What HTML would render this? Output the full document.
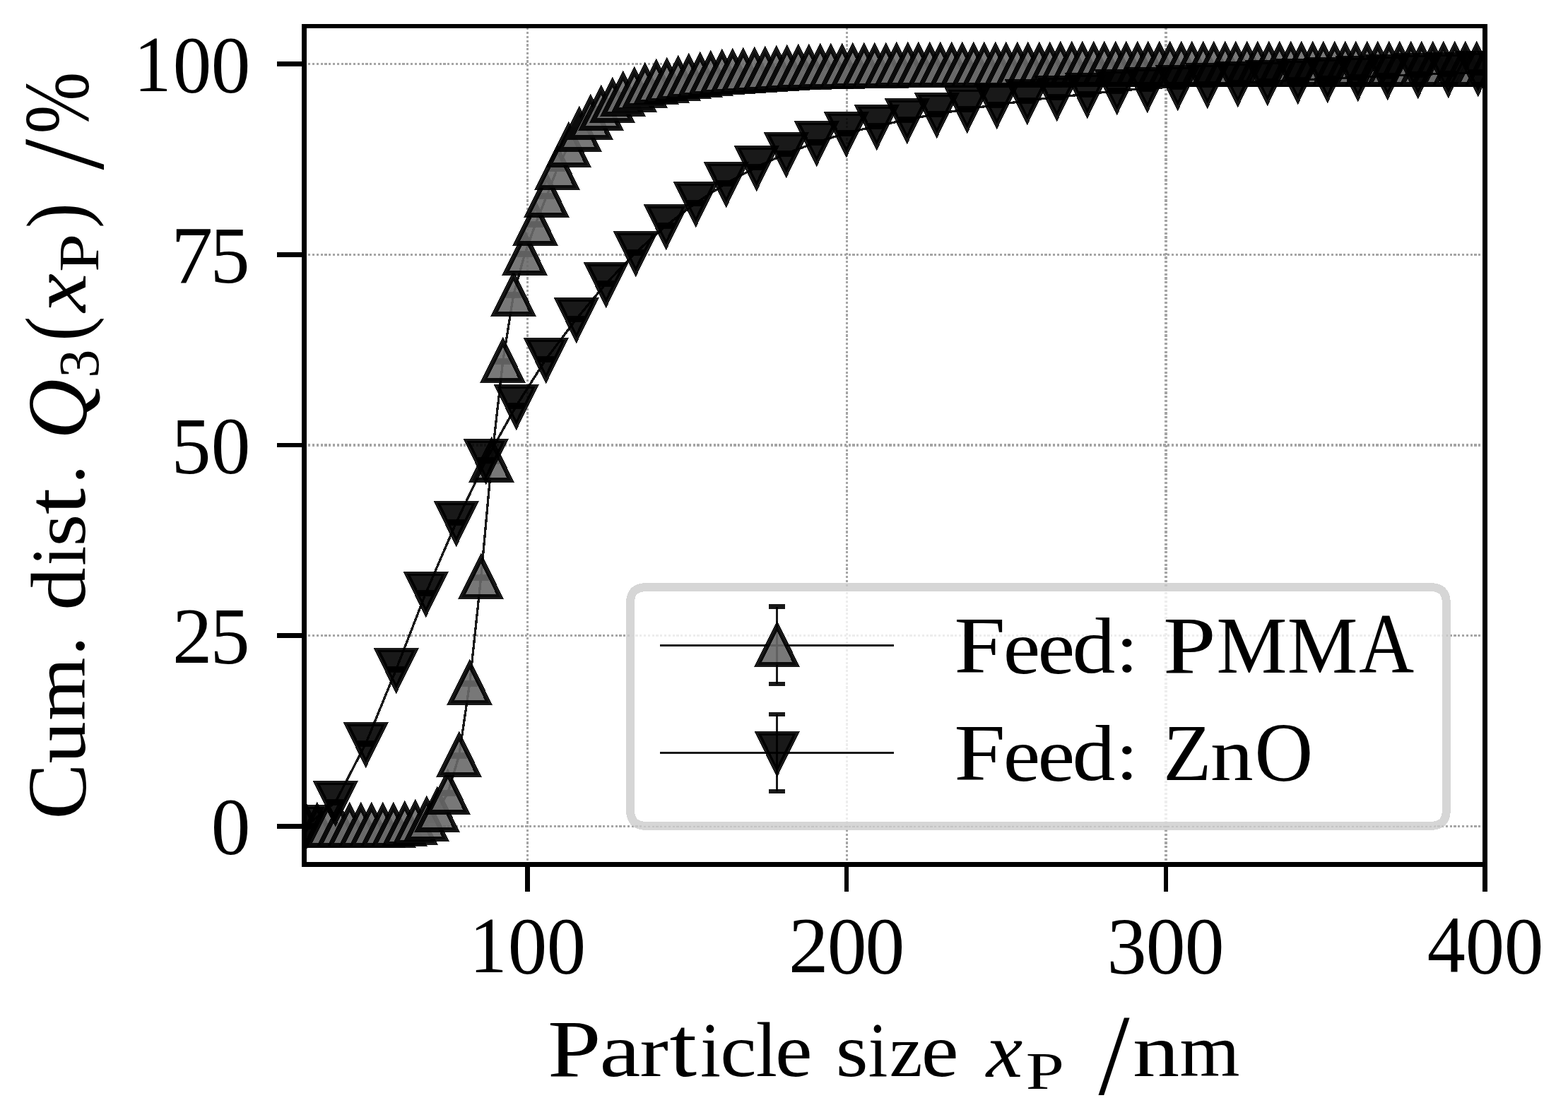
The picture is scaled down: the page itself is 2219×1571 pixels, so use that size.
<!DOCTYPE html>
<html lang="en"><head><meta charset="utf-8"><title>Cumulative distribution of particle size</title>
<style>html,body{margin:0;padding:0;background:#fff}body{width:2219px;height:1571px}svg{display:block}text{font-family:"Liberation Serif",serif;fill:#000}</style>
</head><body>
<svg width="2219" height="1571" viewBox="0 0 2219 1571">
<rect width="2219" height="1571" fill="#fff"/>
<defs>
<clipPath id="ax"><rect x="430.5" y="37" width="1671" height="1186.5"/></clipPath>
<path id="up" d="M0 -27.4 L-27.09 27.4 L27.09 27.4 Z"/>
<path id="dn" d="M0 27.4 L-27.09 -27.4 L27.09 -27.4 Z"/>
<rect id="cap" x="-11.5" y="-3.35" width="23" height="6.7"/>
</defs>
<g stroke="#a5a5a5" stroke-dasharray="3.18 2.61" fill="none" shape-rendering="crispEdges">
<line x1="746.5" y1="1223.5" x2="746.5" y2="37" stroke-width="2.8"/>
<line x1="1198.5" y1="1223.5" x2="1198.5" y2="37" stroke-width="2.8"/>
<line x1="1650" y1="1223.5" x2="1650" y2="37" stroke-width="3.8"/>
<line x1="2101.5" y1="1223.5" x2="2101.5" y2="37" stroke-width="2.8"/>
<line x1="430.5" y1="1169.5" x2="2101.5" y2="1169.5" stroke-width="2.8"/>
<line x1="430.5" y1="899.5" x2="2101.5" y2="899.5" stroke-width="2.8"/>
<line x1="430.5" y1="630" x2="2101.5" y2="630" stroke-width="3.8"/>
<line x1="430.5" y1="360.5" x2="2101.5" y2="360.5" stroke-width="2.8"/>
<line x1="430.5" y1="90.5" x2="2101.5" y2="90.5" stroke-width="2.8"/>
</g>
<g clip-path="url(#ax)" shape-rendering="crispEdges">
<g fill="#000" fill-opacity="0.9">
<use href="#cap" x="432.7" y="1168.2"/><use href="#cap" x="432.7" y="1170.4"/><use href="#cap" x="448.7" y="1168.2"/><use href="#cap" x="448.7" y="1170.4"/><use href="#cap" x="463.7" y="1168.2"/><use href="#cap" x="463.7" y="1170.4"/><use href="#cap" x="479.7" y="1168.2"/><use href="#cap" x="479.7" y="1170.4"/><use href="#cap" x="494.7" y="1168.2"/><use href="#cap" x="494.7" y="1170.4"/><use href="#cap" x="510.7" y="1168.2"/><use href="#cap" x="510.7" y="1170.4"/><use href="#cap" x="525.7" y="1168.2"/><use href="#cap" x="525.7" y="1170.4"/><use href="#cap" x="541.7" y="1168.2"/><use href="#cap" x="541.7" y="1170.4"/><use href="#cap" x="556.7" y="1168.2"/><use href="#cap" x="556.7" y="1170.4"/><use href="#cap" x="572.7" y="1166.2"/><use href="#cap" x="572.7" y="1168.4"/><use href="#cap" x="587.7" y="1164.2"/><use href="#cap" x="587.7" y="1166.4"/><use href="#cap" x="603.7" y="1159.2"/><use href="#cap" x="603.7" y="1161.4"/><use href="#cap" x="618.7" y="1146.2"/><use href="#cap" x="618.7" y="1148.4"/><use href="#cap" x="633.7" y="1121.2"/><use href="#cap" x="633.7" y="1123.4"/><use href="#cap" x="649.7" y="1068.2"/><use href="#cap" x="649.7" y="1070.4"/><use href="#cap" x="664.7" y="966.2"/><use href="#cap" x="664.7" y="968.4"/><use href="#cap" x="680.7" y="816.2"/><use href="#cap" x="680.7" y="818.4"/><use href="#cap" x="695.7" y="651.2"/><use href="#cap" x="695.7" y="653.4"/><use href="#cap" x="711.7" y="510.2"/><use href="#cap" x="711.7" y="512.4"/><use href="#cap" x="726.7" y="416.2"/><use href="#cap" x="726.7" y="418.4"/><use href="#cap" x="742.7" y="358.2"/><use href="#cap" x="742.7" y="360.4"/><use href="#cap" x="757.7" y="316.2"/><use href="#cap" x="757.7" y="318.4"/><use href="#cap" x="773.7" y="276.2"/><use href="#cap" x="773.7" y="278.4"/><use href="#cap" x="788.7" y="237.2"/><use href="#cap" x="788.7" y="239.4"/><use href="#cap" x="804.7" y="205.2"/><use href="#cap" x="804.7" y="207.4"/><use href="#cap" x="819.7" y="183.2"/><use href="#cap" x="819.7" y="185.4"/><use href="#cap" x="835.7" y="166.2"/><use href="#cap" x="835.7" y="168.4"/><use href="#cap" x="850.7" y="153.2"/><use href="#cap" x="850.7" y="155.4"/><use href="#cap" x="866.7" y="142.2"/><use href="#cap" x="866.7" y="144.4"/><use href="#cap" x="881.7" y="133.2"/><use href="#cap" x="881.7" y="135.4"/><use href="#cap" x="897.7" y="127.2"/><use href="#cap" x="897.7" y="129.4"/><use href="#cap" x="912.7" y="121.2"/><use href="#cap" x="912.7" y="123.4"/><use href="#cap" x="928.7" y="116.2"/><use href="#cap" x="928.7" y="118.4"/><use href="#cap" x="943.7" y="114.2"/><use href="#cap" x="943.7" y="116.4"/><use href="#cap" x="959.7" y="111.2"/><use href="#cap" x="959.7" y="113.4"/><use href="#cap" x="974.7" y="108.2"/><use href="#cap" x="974.7" y="110.4"/><use href="#cap" x="990.7" y="106.2"/><use href="#cap" x="990.7" y="108.4"/><use href="#cap" x="1005.7" y="104.2"/><use href="#cap" x="1005.7" y="106.4"/><use href="#cap" x="1021.7" y="102.2"/><use href="#cap" x="1021.7" y="104.4"/><use href="#cap" x="1036.7" y="101.2"/><use href="#cap" x="1036.7" y="103.4"/><use href="#cap" x="1051.7" y="100.2"/><use href="#cap" x="1051.7" y="102.4"/><use href="#cap" x="1067.7" y="99.2"/><use href="#cap" x="1067.7" y="101.4"/><use href="#cap" x="1082.7" y="98.2"/><use href="#cap" x="1082.7" y="100.4"/><use href="#cap" x="1098.7" y="97.2"/><use href="#cap" x="1098.7" y="99.4"/><use href="#cap" x="1113.7" y="96.2"/><use href="#cap" x="1113.7" y="98.4"/><use href="#cap" x="1129.7" y="95.2"/><use href="#cap" x="1129.7" y="97.4"/><use href="#cap" x="1144.7" y="95.2"/><use href="#cap" x="1144.7" y="97.4"/><use href="#cap" x="1160.7" y="94.2"/><use href="#cap" x="1160.7" y="96.4"/><use href="#cap" x="1175.7" y="94.2"/><use href="#cap" x="1175.7" y="96.4"/><use href="#cap" x="1191.7" y="94.2"/><use href="#cap" x="1191.7" y="96.4"/><use href="#cap" x="1206.7" y="93.2"/><use href="#cap" x="1206.7" y="95.4"/><use href="#cap" x="1222.7" y="93.2"/><use href="#cap" x="1222.7" y="95.4"/><use href="#cap" x="1237.7" y="93.2"/><use href="#cap" x="1237.7" y="95.4"/><use href="#cap" x="1253.7" y="93.2"/><use href="#cap" x="1253.7" y="95.4"/><use href="#cap" x="1268.7" y="92.2"/><use href="#cap" x="1268.7" y="94.4"/><use href="#cap" x="1284.7" y="92.2"/><use href="#cap" x="1284.7" y="94.4"/><use href="#cap" x="1299.7" y="92.2"/><use href="#cap" x="1299.7" y="94.4"/><use href="#cap" x="1315.7" y="92.2"/><use href="#cap" x="1315.7" y="94.4"/><use href="#cap" x="1330.7" y="92.2"/><use href="#cap" x="1330.7" y="94.4"/><use href="#cap" x="1346.7" y="92.2"/><use href="#cap" x="1346.7" y="94.4"/><use href="#cap" x="1361.7" y="92.2"/><use href="#cap" x="1361.7" y="94.4"/><use href="#cap" x="1377.7" y="92.2"/><use href="#cap" x="1377.7" y="94.4"/><use href="#cap" x="1392.7" y="92.2"/><use href="#cap" x="1392.7" y="94.4"/><use href="#cap" x="1408.7" y="92.2"/><use href="#cap" x="1408.7" y="94.4"/><use href="#cap" x="1423.7" y="92.2"/><use href="#cap" x="1423.7" y="94.4"/><use href="#cap" x="1439.7" y="92.2"/><use href="#cap" x="1439.7" y="94.4"/><use href="#cap" x="1454.7" y="92.2"/><use href="#cap" x="1454.7" y="94.4"/><use href="#cap" x="1470.7" y="92.2"/><use href="#cap" x="1470.7" y="94.4"/><use href="#cap" x="1485.7" y="92.2"/><use href="#cap" x="1485.7" y="94.4"/><use href="#cap" x="1500.7" y="91.2"/><use href="#cap" x="1500.7" y="93.4"/><use href="#cap" x="1516.7" y="91.2"/><use href="#cap" x="1516.7" y="93.4"/><use href="#cap" x="1531.7" y="91.2"/><use href="#cap" x="1531.7" y="93.4"/><use href="#cap" x="1547.7" y="91.2"/><use href="#cap" x="1547.7" y="93.4"/><use href="#cap" x="1562.7" y="91.2"/><use href="#cap" x="1562.7" y="93.4"/><use href="#cap" x="1578.7" y="91.2"/><use href="#cap" x="1578.7" y="93.4"/><use href="#cap" x="1593.7" y="91.2"/><use href="#cap" x="1593.7" y="93.4"/><use href="#cap" x="1609.7" y="91.2"/><use href="#cap" x="1609.7" y="93.4"/><use href="#cap" x="1624.7" y="91.2"/><use href="#cap" x="1624.7" y="93.4"/><use href="#cap" x="1640.7" y="91.2"/><use href="#cap" x="1640.7" y="93.4"/><use href="#cap" x="1655.7" y="91.2"/><use href="#cap" x="1655.7" y="93.4"/><use href="#cap" x="1671.7" y="91.2"/><use href="#cap" x="1671.7" y="93.4"/><use href="#cap" x="1686.7" y="91.2"/><use href="#cap" x="1686.7" y="93.4"/><use href="#cap" x="1702.7" y="91.2"/><use href="#cap" x="1702.7" y="93.4"/><use href="#cap" x="1717.7" y="91.2"/><use href="#cap" x="1717.7" y="93.4"/><use href="#cap" x="1733.7" y="91.2"/><use href="#cap" x="1733.7" y="93.4"/><use href="#cap" x="1748.7" y="91.2"/><use href="#cap" x="1748.7" y="93.4"/><use href="#cap" x="1764.7" y="91.2"/><use href="#cap" x="1764.7" y="93.4"/><use href="#cap" x="1779.7" y="91.2"/><use href="#cap" x="1779.7" y="93.4"/><use href="#cap" x="1795.7" y="91.2"/><use href="#cap" x="1795.7" y="93.4"/><use href="#cap" x="1810.7" y="91.2"/><use href="#cap" x="1810.7" y="93.4"/><use href="#cap" x="1826.7" y="91.2"/><use href="#cap" x="1826.7" y="93.4"/><use href="#cap" x="1841.7" y="91.2"/><use href="#cap" x="1841.7" y="93.4"/><use href="#cap" x="1857.7" y="91.2"/><use href="#cap" x="1857.7" y="93.4"/><use href="#cap" x="1872.7" y="91.2"/><use href="#cap" x="1872.7" y="93.4"/><use href="#cap" x="1888.7" y="91.2"/><use href="#cap" x="1888.7" y="93.4"/><use href="#cap" x="1903.7" y="91.2"/><use href="#cap" x="1903.7" y="93.4"/><use href="#cap" x="1918.7" y="91.2"/><use href="#cap" x="1918.7" y="93.4"/><use href="#cap" x="1934.7" y="91.2"/><use href="#cap" x="1934.7" y="93.4"/><use href="#cap" x="1949.7" y="91.2"/><use href="#cap" x="1949.7" y="93.4"/><use href="#cap" x="1965.7" y="91.2"/><use href="#cap" x="1965.7" y="93.4"/><use href="#cap" x="1980.7" y="91.2"/><use href="#cap" x="1980.7" y="93.4"/><use href="#cap" x="1996.7" y="91.2"/><use href="#cap" x="1996.7" y="93.4"/><use href="#cap" x="2011.7" y="91.2"/><use href="#cap" x="2011.7" y="93.4"/><use href="#cap" x="2027.7" y="91.2"/><use href="#cap" x="2027.7" y="93.4"/><use href="#cap" x="2042.7" y="91.2"/><use href="#cap" x="2042.7" y="93.4"/><use href="#cap" x="2058.7" y="91.2"/><use href="#cap" x="2058.7" y="93.4"/><use href="#cap" x="2073.7" y="91.2"/><use href="#cap" x="2073.7" y="93.4"/><use href="#cap" x="2089.7" y="91.2"/><use href="#cap" x="2089.7" y="93.4"/><use href="#cap" x="2104.7" y="91.2"/><use href="#cap" x="2104.7" y="93.4"/>
</g>
<polyline fill="none" stroke="#000" stroke-opacity="0.9" stroke-width="3.33" stroke-linejoin="round" points="432.7,1169.3 448.7,1169.3 463.7,1169.3 479.7,1169.3 494.7,1169.3 510.7,1169.3 525.7,1169.3 541.7,1169.3 556.7,1169.3 572.7,1167.3 587.7,1165.3 603.7,1160.3 618.7,1147.3 633.7,1122.3 649.7,1069.3 664.7,967.3 680.7,817.3 695.7,652.3 711.7,511.3 726.7,417.3 742.7,359.3 757.7,317.3 773.7,277.3 788.7,238.3 804.7,206.3 819.7,184.3 835.7,167.3 850.7,154.3 866.7,143.3 881.7,134.3 897.7,128.3 912.7,122.3 928.7,117.3 943.7,115.3 959.7,112.3 974.7,109.3 990.7,107.3 1005.7,105.3 1021.7,103.3 1036.7,102.3 1051.7,101.3 1067.7,100.3 1082.7,99.3 1098.7,98.3 1113.7,97.3 1129.7,96.3 1144.7,96.3 1160.7,95.3 1175.7,95.3 1191.7,95.3 1206.7,94.3 1222.7,94.3 1237.7,94.3 1253.7,94.3 1268.7,93.3 1284.7,93.3 1299.7,93.3 1315.7,93.3 1330.7,93.3 1346.7,93.3 1361.7,93.3 1377.7,93.3 1392.7,93.3 1408.7,93.3 1423.7,93.3 1439.7,93.3 1454.7,93.3 1470.7,93.3 1485.7,93.3 1500.7,92.3 1516.7,92.3 1531.7,92.3 1547.7,92.3 1562.7,92.3 1578.7,92.3 1593.7,92.3 1609.7,92.3 1624.7,92.3 1640.7,92.3 1655.7,92.3 1671.7,92.3 1686.7,92.3 1702.7,92.3 1717.7,92.3 1733.7,92.3 1748.7,92.3 1764.7,92.3 1779.7,92.3 1795.7,92.3 1810.7,92.3 1826.7,92.3 1841.7,92.3 1857.7,92.3 1872.7,92.3 1888.7,92.3 1903.7,92.3 1918.7,92.3 1934.7,92.3 1949.7,92.3 1965.7,92.3 1980.7,92.3 1996.7,92.3 2011.7,92.3 2027.7,92.3 2042.7,92.3 2058.7,92.3 2073.7,92.3 2089.7,92.3 2104.7,92.3"/>
<g fill="#696969" fill-opacity="0.9" stroke="#000" stroke-opacity="0.9" stroke-width="6.67" stroke-linejoin="miter" stroke-miterlimit="10">
<use href="#up" x="432.7" y="1169.3"/><use href="#up" x="448.7" y="1169.3"/><use href="#up" x="463.7" y="1169.3"/><use href="#up" x="479.7" y="1169.3"/><use href="#up" x="494.7" y="1169.3"/><use href="#up" x="510.7" y="1169.3"/><use href="#up" x="525.7" y="1169.3"/><use href="#up" x="541.7" y="1169.3"/><use href="#up" x="556.7" y="1169.3"/><use href="#up" x="572.7" y="1167.3"/><use href="#up" x="587.7" y="1165.3"/><use href="#up" x="603.7" y="1160.3"/><use href="#up" x="618.7" y="1147.3"/><use href="#up" x="633.7" y="1122.3"/><use href="#up" x="649.7" y="1069.3"/><use href="#up" x="664.7" y="967.3"/><use href="#up" x="680.7" y="817.3"/><use href="#up" x="695.7" y="652.3"/><use href="#up" x="711.7" y="511.3"/><use href="#up" x="726.7" y="417.3"/><use href="#up" x="742.7" y="359.3"/><use href="#up" x="757.7" y="317.3"/><use href="#up" x="773.7" y="277.3"/><use href="#up" x="788.7" y="238.3"/><use href="#up" x="804.7" y="206.3"/><use href="#up" x="819.7" y="184.3"/><use href="#up" x="835.7" y="167.3"/><use href="#up" x="850.7" y="154.3"/><use href="#up" x="866.7" y="143.3"/><use href="#up" x="881.7" y="134.3"/><use href="#up" x="897.7" y="128.3"/><use href="#up" x="912.7" y="122.3"/><use href="#up" x="928.7" y="117.3"/><use href="#up" x="943.7" y="115.3"/><use href="#up" x="959.7" y="112.3"/><use href="#up" x="974.7" y="109.3"/><use href="#up" x="990.7" y="107.3"/><use href="#up" x="1005.7" y="105.3"/><use href="#up" x="1021.7" y="103.3"/><use href="#up" x="1036.7" y="102.3"/><use href="#up" x="1051.7" y="101.3"/><use href="#up" x="1067.7" y="100.3"/><use href="#up" x="1082.7" y="99.3"/><use href="#up" x="1098.7" y="98.3"/><use href="#up" x="1113.7" y="97.3"/><use href="#up" x="1129.7" y="96.3"/><use href="#up" x="1144.7" y="96.3"/><use href="#up" x="1160.7" y="95.3"/><use href="#up" x="1175.7" y="95.3"/><use href="#up" x="1191.7" y="95.3"/><use href="#up" x="1206.7" y="94.3"/><use href="#up" x="1222.7" y="94.3"/><use href="#up" x="1237.7" y="94.3"/><use href="#up" x="1253.7" y="94.3"/><use href="#up" x="1268.7" y="93.3"/><use href="#up" x="1284.7" y="93.3"/><use href="#up" x="1299.7" y="93.3"/><use href="#up" x="1315.7" y="93.3"/><use href="#up" x="1330.7" y="93.3"/><use href="#up" x="1346.7" y="93.3"/><use href="#up" x="1361.7" y="93.3"/><use href="#up" x="1377.7" y="93.3"/><use href="#up" x="1392.7" y="93.3"/><use href="#up" x="1408.7" y="93.3"/><use href="#up" x="1423.7" y="93.3"/><use href="#up" x="1439.7" y="93.3"/><use href="#up" x="1454.7" y="93.3"/><use href="#up" x="1470.7" y="93.3"/><use href="#up" x="1485.7" y="93.3"/><use href="#up" x="1500.7" y="92.3"/><use href="#up" x="1516.7" y="92.3"/><use href="#up" x="1531.7" y="92.3"/><use href="#up" x="1547.7" y="92.3"/><use href="#up" x="1562.7" y="92.3"/><use href="#up" x="1578.7" y="92.3"/><use href="#up" x="1593.7" y="92.3"/><use href="#up" x="1609.7" y="92.3"/><use href="#up" x="1624.7" y="92.3"/><use href="#up" x="1640.7" y="92.3"/><use href="#up" x="1655.7" y="92.3"/><use href="#up" x="1671.7" y="92.3"/><use href="#up" x="1686.7" y="92.3"/><use href="#up" x="1702.7" y="92.3"/><use href="#up" x="1717.7" y="92.3"/><use href="#up" x="1733.7" y="92.3"/><use href="#up" x="1748.7" y="92.3"/><use href="#up" x="1764.7" y="92.3"/><use href="#up" x="1779.7" y="92.3"/><use href="#up" x="1795.7" y="92.3"/><use href="#up" x="1810.7" y="92.3"/><use href="#up" x="1826.7" y="92.3"/><use href="#up" x="1841.7" y="92.3"/><use href="#up" x="1857.7" y="92.3"/><use href="#up" x="1872.7" y="92.3"/><use href="#up" x="1888.7" y="92.3"/><use href="#up" x="1903.7" y="92.3"/><use href="#up" x="1918.7" y="92.3"/><use href="#up" x="1934.7" y="92.3"/><use href="#up" x="1949.7" y="92.3"/><use href="#up" x="1965.7" y="92.3"/><use href="#up" x="1980.7" y="92.3"/><use href="#up" x="1996.7" y="92.3"/><use href="#up" x="2011.7" y="92.3"/><use href="#up" x="2027.7" y="92.3"/><use href="#up" x="2042.7" y="92.3"/><use href="#up" x="2058.7" y="92.3"/><use href="#up" x="2073.7" y="92.3"/><use href="#up" x="2089.7" y="92.3"/><use href="#up" x="2104.7" y="92.3"/>
</g></g>
<g clip-path="url(#ax)" shape-rendering="crispEdges">
<g fill="#000" fill-opacity="0.9">
<use href="#cap" x="432.7" y="1168.2"/><use href="#cap" x="432.7" y="1170.4"/><use href="#cap" x="474.7" y="1134.2"/><use href="#cap" x="474.7" y="1136.4"/><use href="#cap" x="517.7" y="1051.2"/><use href="#cap" x="517.7" y="1053.4"/><use href="#cap" x="560.7" y="946.2"/><use href="#cap" x="560.7" y="948.4"/><use href="#cap" x="602.7" y="838.2"/><use href="#cap" x="602.7" y="840.4"/><use href="#cap" x="645.7" y="738.2"/><use href="#cap" x="645.7" y="740.4"/><use href="#cap" x="687.7" y="650.2"/><use href="#cap" x="687.7" y="652.4"/><use href="#cap" x="730.7" y="573.2"/><use href="#cap" x="730.7" y="575.4"/><use href="#cap" x="772.7" y="507.2"/><use href="#cap" x="772.7" y="509.4"/><use href="#cap" x="815.7" y="450.2"/><use href="#cap" x="815.7" y="452.4"/><use href="#cap" x="857.7" y="400.2"/><use href="#cap" x="857.7" y="402.4"/><use href="#cap" x="899.7" y="356.2"/><use href="#cap" x="899.7" y="358.4"/><use href="#cap" x="942.7" y="318.2"/><use href="#cap" x="942.7" y="320.4"/><use href="#cap" x="984.7" y="286.2"/><use href="#cap" x="984.7" y="288.4"/><use href="#cap" x="1027.7" y="258.2"/><use href="#cap" x="1027.7" y="260.4"/><use href="#cap" x="1070.7" y="235.2"/><use href="#cap" x="1070.7" y="237.4"/><use href="#cap" x="1112.7" y="216.2"/><use href="#cap" x="1112.7" y="218.4"/><use href="#cap" x="1155.7" y="200.2"/><use href="#cap" x="1155.7" y="202.4"/><use href="#cap" x="1197.7" y="187.2"/><use href="#cap" x="1197.7" y="189.4"/><use href="#cap" x="1240.7" y="177.2"/><use href="#cap" x="1240.7" y="179.4"/><use href="#cap" x="1283.7" y="168.2"/><use href="#cap" x="1283.7" y="170.4"/><use href="#cap" x="1325.7" y="160.2"/><use href="#cap" x="1325.7" y="162.4"/><use href="#cap" x="1368.7" y="153.2"/><use href="#cap" x="1368.7" y="155.4"/><use href="#cap" x="1410.7" y="147.2"/><use href="#cap" x="1410.7" y="149.4"/><use href="#cap" x="1453.7" y="141.2"/><use href="#cap" x="1453.7" y="143.4"/><use href="#cap" x="1495.7" y="136.2"/><use href="#cap" x="1495.7" y="138.4"/><use href="#cap" x="1538.7" y="132.2"/><use href="#cap" x="1538.7" y="134.4"/><use href="#cap" x="1580.7" y="127.2"/><use href="#cap" x="1580.7" y="129.4"/><use href="#cap" x="1623.7" y="124.2"/><use href="#cap" x="1623.7" y="126.4"/><use href="#cap" x="1666.7" y="121.2"/><use href="#cap" x="1666.7" y="123.4"/><use href="#cap" x="1708.7" y="118.2"/><use href="#cap" x="1708.7" y="120.4"/><use href="#cap" x="1751.7" y="116.2"/><use href="#cap" x="1751.7" y="118.4"/><use href="#cap" x="1793.7" y="114.2"/><use href="#cap" x="1793.7" y="116.4"/><use href="#cap" x="1836.7" y="112.2"/><use href="#cap" x="1836.7" y="114.4"/><use href="#cap" x="1878.7" y="110.2"/><use href="#cap" x="1878.7" y="112.4"/><use href="#cap" x="1921.7" y="108.2"/><use href="#cap" x="1921.7" y="110.4"/><use href="#cap" x="1963.7" y="106.2"/><use href="#cap" x="1963.7" y="108.4"/><use href="#cap" x="2006.7" y="104.2"/><use href="#cap" x="2006.7" y="106.4"/><use href="#cap" x="2049.7" y="103.2"/><use href="#cap" x="2049.7" y="105.4"/><use href="#cap" x="2091.7" y="101.2"/><use href="#cap" x="2091.7" y="103.4"/>
</g>
<polyline fill="none" stroke="#000" stroke-opacity="0.9" stroke-width="3.33" stroke-linejoin="round" points="432.7,1169.3 474.7,1135.3 517.7,1052.3 560.7,947.3 602.7,839.3 645.7,739.3 687.7,651.3 730.7,574.3 772.7,508.3 815.7,451.3 857.7,401.3 899.7,357.3 942.7,319.3 984.7,287.3 1027.7,259.3 1070.7,236.3 1112.7,217.3 1155.7,201.3 1197.7,188.3 1240.7,178.3 1283.7,169.3 1325.7,161.3 1368.7,154.3 1410.7,148.3 1453.7,142.3 1495.7,137.3 1538.7,133.3 1580.7,128.3 1623.7,125.3 1666.7,122.3 1708.7,119.3 1751.7,117.3 1793.7,115.3 1836.7,113.3 1878.7,111.3 1921.7,109.3 1963.7,107.3 2006.7,105.3 2049.7,104.3 2091.7,102.3"/>
<g fill="#000" fill-opacity="0.9" stroke="#000" stroke-opacity="0.9" stroke-width="6.67" stroke-linejoin="miter" stroke-miterlimit="10">
<use href="#dn" x="432.7" y="1169.3"/><use href="#dn" x="474.7" y="1135.3"/><use href="#dn" x="517.7" y="1052.3"/><use href="#dn" x="560.7" y="947.3"/><use href="#dn" x="602.7" y="839.3"/><use href="#dn" x="645.7" y="739.3"/><use href="#dn" x="687.7" y="651.3"/><use href="#dn" x="730.7" y="574.3"/><use href="#dn" x="772.7" y="508.3"/><use href="#dn" x="815.7" y="451.3"/><use href="#dn" x="857.7" y="401.3"/><use href="#dn" x="899.7" y="357.3"/><use href="#dn" x="942.7" y="319.3"/><use href="#dn" x="984.7" y="287.3"/><use href="#dn" x="1027.7" y="259.3"/><use href="#dn" x="1070.7" y="236.3"/><use href="#dn" x="1112.7" y="217.3"/><use href="#dn" x="1155.7" y="201.3"/><use href="#dn" x="1197.7" y="188.3"/><use href="#dn" x="1240.7" y="178.3"/><use href="#dn" x="1283.7" y="169.3"/><use href="#dn" x="1325.7" y="161.3"/><use href="#dn" x="1368.7" y="154.3"/><use href="#dn" x="1410.7" y="148.3"/><use href="#dn" x="1453.7" y="142.3"/><use href="#dn" x="1495.7" y="137.3"/><use href="#dn" x="1538.7" y="133.3"/><use href="#dn" x="1580.7" y="128.3"/><use href="#dn" x="1623.7" y="125.3"/><use href="#dn" x="1666.7" y="122.3"/><use href="#dn" x="1708.7" y="119.3"/><use href="#dn" x="1751.7" y="117.3"/><use href="#dn" x="1793.7" y="115.3"/><use href="#dn" x="1836.7" y="113.3"/><use href="#dn" x="1878.7" y="111.3"/><use href="#dn" x="1921.7" y="109.3"/><use href="#dn" x="1963.7" y="107.3"/><use href="#dn" x="2006.7" y="105.3"/><use href="#dn" x="2049.7" y="104.3"/><use href="#dn" x="2091.7" y="102.3"/>
</g></g>
<g fill="#000" shape-rendering="crispEdges">
<rect x="427" y="34" width="7" height="1193"/>
<rect x="2098" y="34" width="7" height="1193"/>
<rect x="427" y="34" width="1678" height="6"/>
<rect x="427" y="1220" width="1678" height="7"/>
<rect x="743" y="1227" width="7" height="35"/>
<rect x="1195" y="1227" width="6" height="35"/>
<rect x="1647" y="1227" width="6" height="35"/>
<rect x="2098" y="1227" width="7" height="35"/>
<rect x="392" y="1166" width="35" height="7"/>
<rect x="392" y="896" width="35" height="7"/>
<rect x="392" y="627" width="35" height="6"/>
<rect x="392" y="357" width="35" height="7"/>
<rect x="392" y="87" width="35" height="7"/>
</g>
<path shape-rendering="crispEdges" d="M914.6 831.1 H2024.3 Q2046.8 831.1 2046.8 852.6 V1147.4 Q2046.8 1168.9 2024.3 1168.9 H914.6 Q892.1 1168.9 892.1 1147.4 V852.6 Q892.1 831.1 914.6 831.1 Z" fill="#fff" fill-opacity="0.8" stroke="#ccc" stroke-opacity="0.8" stroke-width="12"/>
<g shape-rendering="crispEdges">
<g fill="#000" fill-opacity="0.9"><rect x="1088" y="855" width="23" height="7"/><rect x="1088" y="965" width="23" height="6"/></g>
<line x1="1099.7" y1="858.5" x2="1099.7" y2="968" stroke="#000" stroke-opacity="0.9" stroke-width="3.33"/>
<line x1="934.4" y1="913.3" x2="1264.8" y2="913.3" stroke="#000" stroke-opacity="0.9" stroke-width="3.33"/>
<use href="#up" x="1099.7" y="913.3" fill="#696969" fill-opacity="0.9" stroke="#000" stroke-opacity="0.9" stroke-width="6.67" stroke-linejoin="miter" stroke-miterlimit="10"/>
</g>
<g shape-rendering="crispEdges">
<g fill="#000" fill-opacity="0.9"><rect x="1088" y="1008" width="23" height="6"/><rect x="1088" y="1117" width="23" height="6"/></g>
<line x1="1099.7" y1="1011" x2="1099.7" y2="1120" stroke="#000" stroke-opacity="0.9" stroke-width="3.33"/>
<line x1="934.4" y1="1065.3" x2="1264.8" y2="1065.3" stroke="#000" stroke-opacity="0.9" stroke-width="3.33"/>
<use href="#dn" x="1099.7" y="1065.3" fill="#000" fill-opacity="0.9" stroke="#000" stroke-opacity="0.9" stroke-width="6.67" stroke-linejoin="miter" stroke-miterlimit="10"/>
</g>
<text xml:space="preserve"><tspan x="664.38" y="1376.00" font-size="112.27" textLength="52.98" lengthAdjust="spacingAndGlyphs">1</tspan><tspan x="718.78" y="1377.86" font-size="114.39" textLength="55.54" lengthAdjust="spacingAndGlyphs">0</tspan><tspan x="773.69" y="1377.86" font-size="114.39" textLength="55.42" lengthAdjust="spacingAndGlyphs">0</tspan></text>
<text xml:space="preserve"><tspan x="1115.98" y="1375.80" font-size="111.63" textLength="56.44" lengthAdjust="spacingAndGlyphs">2</tspan><tspan x="1170.66" y="1377.86" font-size="114.39" textLength="55.78" lengthAdjust="spacingAndGlyphs">0</tspan><tspan x="1224.56" y="1377.86" font-size="114.39" textLength="55.78" lengthAdjust="spacingAndGlyphs">0</tspan></text>
<text xml:space="preserve"><tspan x="1566.51" y="1377.85" font-size="114.73" textLength="56.19" lengthAdjust="spacingAndGlyphs">3</tspan><tspan x="1621.66" y="1377.86" font-size="114.39" textLength="55.78" lengthAdjust="spacingAndGlyphs">0</tspan><tspan x="1676.66" y="1377.86" font-size="114.39" textLength="55.78" lengthAdjust="spacingAndGlyphs">0</tspan></text>
<text xml:space="preserve"><tspan x="2019.74" y="1375.80" font-size="113.68" textLength="54.09" lengthAdjust="spacingAndGlyphs">4</tspan><tspan x="2073.79" y="1377.86" font-size="114.39" textLength="55.42" lengthAdjust="spacingAndGlyphs">0</tspan><tspan x="2128.67" y="1377.86" font-size="114.39" textLength="55.66" lengthAdjust="spacingAndGlyphs">0</tspan></text>
<text xml:space="preserve"><tspan x="189.60" y="129.03" font-size="112.58" textLength="52.84" lengthAdjust="spacingAndGlyphs">1</tspan><tspan x="244.86" y="130.79" font-size="114.54" textLength="54.48" lengthAdjust="spacingAndGlyphs">0</tspan><tspan x="298.77" y="130.79" font-size="114.54" textLength="55.66" lengthAdjust="spacingAndGlyphs">0</tspan></text>
<text xml:space="preserve"><tspan x="242.08" y="400.99" font-size="117.38" textLength="59.24" lengthAdjust="spacingAndGlyphs">7</tspan><tspan x="297.49" y="400.04" font-size="114.71" textLength="56.09" lengthAdjust="spacingAndGlyphs">5</tspan></text>
<text xml:space="preserve"><tspan x="242.49" y="669.70" font-size="114.71" textLength="56.09" lengthAdjust="spacingAndGlyphs">5</tspan><tspan x="298.77" y="670.10" font-size="114.54" textLength="55.66" lengthAdjust="spacingAndGlyphs">0</tspan></text>
<text xml:space="preserve"><tspan x="244.08" y="937.91" font-size="112.08" textLength="56.44" lengthAdjust="spacingAndGlyphs">2</tspan><tspan x="297.49" y="939.36" font-size="114.71" textLength="56.09" lengthAdjust="spacingAndGlyphs">5</tspan></text>
<text xml:space="preserve"><tspan x="298.77" y="1209.42" font-size="114.54" textLength="55.66" lengthAdjust="spacingAndGlyphs">0</tspan></text>
<text xml:space="preserve"><tspan x="1350.15" y="952.00" font-size="115.24" textLength="72.58" lengthAdjust="spacingAndGlyphs">F</tspan><tspan x="1419.88" y="952.52" font-size="107.50" textLength="52.42" lengthAdjust="spacingAndGlyphs">e</tspan><tspan x="1468.55" y="952.52" font-size="107.50" textLength="52.66" lengthAdjust="spacingAndGlyphs">e</tspan><tspan x="1517.62" y="952.38" font-size="111.51" textLength="60.84" lengthAdjust="spacingAndGlyphs">d</tspan><tspan x="1579.37" y="950.60" font-size="100.00" textLength="31.37" lengthAdjust="spacingAndGlyphs">:</tspan> <tspan x="1645.93" y="952.00" font-size="115.24" textLength="74.88" lengthAdjust="spacingAndGlyphs">P</tspan><tspan x="1721.56" y="952.00" font-size="115.24" textLength="99.82" lengthAdjust="spacingAndGlyphs">M</tspan><tspan x="1821.66" y="952.00" font-size="115.24" textLength="99.71" lengthAdjust="spacingAndGlyphs">M</tspan><tspan x="1922.92" y="952.00" font-size="119.70" textLength="78.17" lengthAdjust="spacingAndGlyphs">A</tspan></text>
<text xml:space="preserve"><tspan x="1350.15" y="1104.10" font-size="115.24" textLength="72.58" lengthAdjust="spacingAndGlyphs">F</tspan><tspan x="1419.88" y="1104.62" font-size="107.50" textLength="52.42" lengthAdjust="spacingAndGlyphs">e</tspan><tspan x="1468.55" y="1104.62" font-size="107.50" textLength="52.66" lengthAdjust="spacingAndGlyphs">e</tspan><tspan x="1517.62" y="1104.48" font-size="111.51" textLength="60.84" lengthAdjust="spacingAndGlyphs">d</tspan><tspan x="1579.37" y="1102.70" font-size="100.00" textLength="31.37" lengthAdjust="spacingAndGlyphs">:</tspan> <tspan x="1646.35" y="1104.10" font-size="115.24" textLength="68.05" lengthAdjust="spacingAndGlyphs">Z</tspan><tspan x="1713.03" y="1104.10" font-size="105.74" textLength="60.71" lengthAdjust="spacingAndGlyphs">n</tspan><tspan x="1775.39" y="1105.01" font-size="118.90" textLength="82.71" lengthAdjust="spacingAndGlyphs">O</tspan></text>
<text xml:space="preserve"><tspan x="774.99" y="1522.80" font-size="115.24" textLength="75.68" lengthAdjust="spacingAndGlyphs">P</tspan><tspan x="848.41" y="1523.32" font-size="107.95" textLength="57.78" lengthAdjust="spacingAndGlyphs">a</tspan><tspan x="905.57" y="1522.80" font-size="104.66" textLength="40.42" lengthAdjust="spacingAndGlyphs">r</tspan><tspan x="947.51" y="1523.19" font-size="120.91" textLength="38.60" lengthAdjust="spacingAndGlyphs">t</tspan><tspan x="991.13" y="1522.80" font-size="110.27" textLength="28.71" lengthAdjust="spacingAndGlyphs">i</tspan><tspan x="1019.21" y="1523.32" font-size="107.50" textLength="51.23" lengthAdjust="spacingAndGlyphs">c</tspan><tspan x="1069.72" y="1522.80" font-size="110.95" textLength="30.23" lengthAdjust="spacingAndGlyphs">l</tspan><tspan x="1097.06" y="1523.32" font-size="107.50" textLength="52.54" lengthAdjust="spacingAndGlyphs">e</tspan> <tspan x="1182.65" y="1523.32" font-size="107.50" textLength="45.83" lengthAdjust="spacingAndGlyphs">s</tspan><tspan x="1228.82" y="1522.80" font-size="110.27" textLength="27.55" lengthAdjust="spacingAndGlyphs">i</tspan><tspan x="1258.66" y="1522.80" font-size="103.48" textLength="46.77" lengthAdjust="spacingAndGlyphs">z</tspan><tspan x="1303.74" y="1523.32" font-size="107.50" textLength="52.78" lengthAdjust="spacingAndGlyphs">e</tspan> <tspan x="1395.79" y="1524.40" font-size="110.43" textLength="51.51" lengthAdjust="spacingAndGlyphs" font-style="italic">x</tspan><tspan x="1451.77" y="1541.40" font-size="74.24" textLength="54.25" lengthAdjust="spacingAndGlyphs">P</tspan> <tspan x="1554.50" y="1547.87" font-size="162.99" textLength="44.07" lengthAdjust="spacingAndGlyphs">/</tspan><tspan x="1602.99" y="1522.80" font-size="105.74" textLength="66.13" lengthAdjust="spacingAndGlyphs">n</tspan><tspan x="1669.41" y="1522.80" font-size="105.74" textLength="85.01" lengthAdjust="spacingAndGlyphs">m</tspan></text>
<text transform="rotate(-90)" xml:space="preserve"><tspan x="-1159.46" y="120.71" font-size="119.35" textLength="78.75" lengthAdjust="spacingAndGlyphs">C</tspan><tspan x="-1080.46" y="119.92" font-size="107.66" textLength="59.40" lengthAdjust="spacingAndGlyphs">u</tspan><tspan x="-1020.00" y="119.70" font-size="105.96" textLength="89.63" lengthAdjust="spacingAndGlyphs">m</tspan><tspan x="-928.07" y="118.18" font-size="108.47" textLength="27.54" lengthAdjust="spacingAndGlyphs">.</tspan> <tspan x="-863.75" y="119.89" font-size="111.08" textLength="60.40" lengthAdjust="spacingAndGlyphs">d</tspan><tspan x="-800.49" y="119.70" font-size="110.27" textLength="27.66" lengthAdjust="spacingAndGlyphs">i</tspan><tspan x="-773.55" y="119.94" font-size="106.46" textLength="45.83" lengthAdjust="spacingAndGlyphs">s</tspan><tspan x="-728.04" y="119.78" font-size="121.60" textLength="37.11" lengthAdjust="spacingAndGlyphs">t</tspan><tspan x="-685.02" y="118.18" font-size="108.47" textLength="27.33" lengthAdjust="spacingAndGlyphs">.</tspan> <tspan x="-621.58" y="121.58" font-size="120.51" textLength="84.81" lengthAdjust="spacingAndGlyphs" font-style="italic">Q</tspan><tspan x="-534.76" y="139.49" font-size="80.51" textLength="40.17" lengthAdjust="spacingAndGlyphs">3</tspan><tspan x="-482.55" y="121.45" font-size="122.41" textLength="34.47" lengthAdjust="spacingAndGlyphs">(</tspan><tspan x="-441.72" y="121.30" font-size="111.30" textLength="54.78" lengthAdjust="spacingAndGlyphs" font-style="italic">x</tspan><tspan x="-385.02" y="138.50" font-size="81.25" textLength="54.02" lengthAdjust="spacingAndGlyphs">P</tspan><tspan x="-322.94" y="121.21" font-size="121.63" textLength="35.75" lengthAdjust="spacingAndGlyphs">)</tspan> <tspan x="-240.50" y="145.36" font-size="164.48" textLength="43.87" lengthAdjust="spacingAndGlyphs">/</tspan><tspan x="-189.36" y="124.42" font-size="131.56" textLength="87.23" lengthAdjust="spacingAndGlyphs">%</tspan></text>
</svg></body></html>
